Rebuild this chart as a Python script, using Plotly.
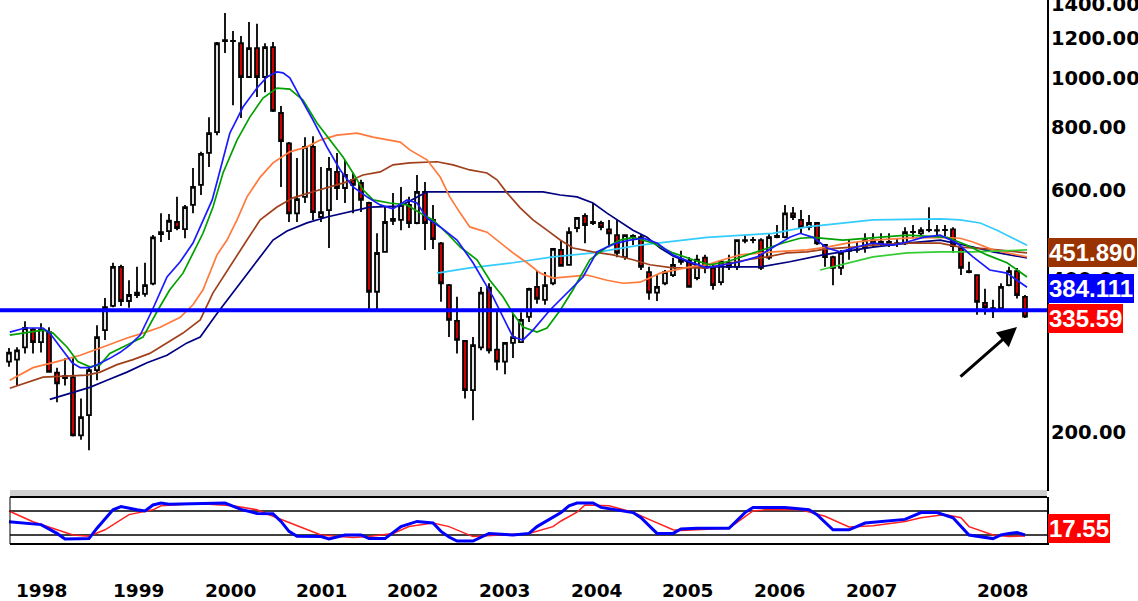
import math
import plotly.graph_objects as go

# ---------------- data (monthly bars, index 0..127) ----------------
bars = list(range(128))
opens = [275.5, 278, 294, 319, 301, 315, 262, 255.5, 256.5, 197, 216, 265, 318, 355, 424, 363, 373, 375, 393, 492,
         499, 520, 503.5, 562, 615.5, 712, 783, 1185, 1185, 1173, 1006, 1147, 1006, 1152, 854, 744, 541, 583, 732, 532,
         549, 653, 607, 630, 621, 567, 378.6, 454, 527.4, 525, 562, 517.6, 596.6, 525, 472, 390, 331.5, 302.6, 242, 294,
         385.5, 291, 275.5, 300, 301, 337.6, 387, 365, 393.5, 458, 428, 506, 534.6, 520, 517.6, 503, 490, 443, 485.6, 485.6,
         414, 377, 393.5, 408.5, 433.6, 436, 403, 442, 422, 395.4, 432, 424, 479, 479, 479, 442, 485.6, 485.6, 541, 525,
         508, 517.6, 468.5, 443, 422, 456, 458, 464, 479, 472, 468.5, 472, 472, 496.5, 494, 501, 501, 501, 503, 462,
         416, 408.5, 360, 351.5, 351.5, 390, 416, 370]
highs = [293, 294, 331, 321, 328, 322, 268, 279.6, 279.6, 233, 268, 325, 368, 432, 428, 399, 424, 432, 490, 541,
         539, 583, 562, 665, 715.5, 838, 1179, 1346, 1240, 1212, 1292, 1281, 1173, 1179, 881.5, 748, 696, 765, 768.6, 668,
         699, 712, 690, 650, 630, 570, 494, 556.6, 593.6, 610, 583, 644, 624, 562, 475, 392, 370, 304, 308, 387,
         393.5, 348, 301, 343, 345, 385.5, 416, 414, 462, 479, 508, 532, 541, 567, 523, 525, 525, 492, 492, 490,
         424, 408.5, 418, 442, 456, 443, 448, 448, 428, 436, 448, 481, 490, 485.6, 483, 494, 513, 562, 556.6, 549,
         537, 520, 470, 446, 458, 479, 475, 494, 494, 494, 494, 483, 508, 513, 508, 556, 513, 513, 508, 464,
         434, 410, 383.7, 365, 393.5, 424, 422, 373]
lows = [269, 247, 286, 286, 287, 262, 229, 247, 196, 193, 184, 253, 304, 353, 355, 352, 368, 370, 390, 475,
        479, 501, 483, 541, 588, 668, 772, 1122, 885, 835, 1001, 918, 939, 858, 610, 520, 520, 567, 525, 520,
        462, 575, 567, 541, 544, 348, 348, 452, 513, 501, 506, 515, 458, 460, 361.7, 308, 286, 233, 211, 290,
        286, 265, 260, 280, 300, 330, 358.6, 356.8, 390, 424, 426, 496.5, 472, 513, 501, 463.7, 443, 438, 468.5, 418,
        365, 363, 390, 405, 428, 385.5, 399, 412, 382, 390, 418, 418, 472, 472, 418, 438, 483, 483, 525, 494,
        501, 468.5, 424, 390, 408.5, 438, 452, 452, 464, 464, 464, 464, 468.5, 483, 490, 496.5, 485.6, 488, 452, 408.5,
        412, 341, 341, 336, 348, 388, 367, 336]
closes = [287, 290, 321, 301, 319, 263, 249.5, 258, 197, 214, 265, 308, 353, 424, 363, 373, 377, 390, 485, 496.5,
          523, 506, 556.6, 610, 709, 779, 1173, 1190, 1186, 1006, 1147, 1006, 1152, 862, 751.6, 541, 577, 732, 544, 544,
          662, 607, 644, 615.5, 575, 378.6, 451.6, 520, 523, 562, 517.6, 596.6, 517.6, 481, 393.5, 333, 304, 242, 297, 377,
          290, 275.5, 300, 308, 333, 383.7, 366.7, 390, 460, 426, 496.5, 530, 513, 517.6, 508, 494, 452, 490, 488, 424,
          377, 387, 414, 428, 438, 387, 438, 422, 390, 434, 424, 479, 477, 479.5, 422, 485.6, 488, 541, 532, 508,
          517.6, 472, 443, 422, 452, 458, 458.5, 479, 472, 475, 475, 472.5, 496.5, 497, 501, 501.5, 500, 501.5, 466, 422,
          414, 361.7, 353, 350, 387, 416, 373, 338]

# moving averages (bar index, price)
ma_blue_x = [0.1, 2, 4.25, 5.1, 6.4, 7.9, 8.9, 10.1, 11, 12.6, 13.9, 15.1, 16.4, 17.9, 19.75, 21.4, 23, 24.25, 25.4, 26,
             27.6, 29.25, 31, 32.25, 33.5, 34.25, 35.1, 36.4, 38, 39.75, 41.4, 43, 44.75, 46.4, 48, 49.75, 51, 52.25, 53.9, 56,
             58, 60.5, 63, 64.25, 65.5, 67.6, 69.75, 71.75, 73.5, 74.75, 76, 77.6, 79.25, 81, 83, 85.1, 87.25, 89.25, 91.4, 93.5,
             95.5, 97.6, 98.9, 100.5, 102.25, 103.9, 106, 108, 110.5, 112.25, 114.25, 116.4, 118.5, 120.5, 122.6, 124.75, 126, 127.25]
ma_blue = [315, 321, 321, 313.7, 294.5, 274, 268, 268, 271.7, 279.6, 287.4, 297, 310.8, 348, 404.9, 434, 472.5, 525, 575, 624,
           779, 877.5, 956.6, 1006, 1030, 1025, 1002, 918, 827, 731, 659, 610, 583, 562, 552, 575, 567, 529, 508.5, 479,
           432, 370, 308, 304, 318, 348, 376.8, 404.9, 453.9, 464, 472.5, 479, 483, 472.5, 447.7, 434, 422, 428, 434, 443.6,
           464, 485, 494, 485, 462, 453.9, 464, 472.5, 468, 474.7, 485, 489.7, 472.5, 443.6, 418, 412, 399, 386.5]

ma_green_x = [0.1, 4.25, 5.5, 7.25, 8.6, 10.1, 11.4, 12.6, 14.75, 16.75, 18.6, 20.1, 21.75, 23, 24.25, 25.5, 26.75, 28.5, 30.1, 31.75,
              33.5, 35.1, 36.75, 38.5, 40.1, 41.75, 43, 44.25, 45.5, 47.6, 49.75, 51.4, 53, 54.75, 56.4, 58.5, 60.1, 61.75, 63, 64.25,
              66, 67.25, 68.9, 70.5, 72.6, 74.75, 76.4, 78, 80.5, 83, 85.5, 87.6, 89.75, 92.25, 94.75, 96.75, 98.9, 100.5, 104.25, 108.9,
              112.25, 117.25, 119.75, 122.25, 124.75, 127.25]
ma_green = [310.8, 318, 313.7, 294.5, 275.5, 269, 271.7, 286, 297, 308, 348, 382, 412, 451.8, 494, 556.6, 650, 755, 838, 914,
            956.6, 952, 906, 815.8, 755, 699, 650, 602, 575, 567, 562, 541.5, 525, 494, 464, 438, 399, 370, 343, 322.5,
            315, 321, 348, 382, 438, 464, 479, 485, 472.5, 451.8, 438, 428, 434, 447.7, 462, 472.5, 483, 485, 479, 485,
            489.7, 485, 468, 447.7, 432, 404.9]

ma_lgreen_x = [101.4, 103.9, 108, 112.25, 116.4, 120.5, 123.9, 127.25]
ma_lgreen = [418, 428, 443.6, 451.8, 453.9, 453.9, 456, 458]

ma_orange_x = [0.1, 3, 6, 8.9, 11.75, 14.75, 16.75, 18.9, 21.4, 23, 24.25, 25.1, 26, 27.25, 28.5, 29.75, 31.4, 33, 35.1, 37.25,
               38.9, 41, 43.5, 45.5, 47.6, 48.9, 50.1, 52.25, 53.9, 55.1, 56.4, 57.6, 59.75, 61.4, 63, 64.75, 66.4, 68, 69.75, 72.25,
               74.75, 76.75, 78.9, 81.4, 85.1, 87.25, 89.25, 91.4, 95.5, 99.75, 102.25, 104.75, 108, 112.25, 116.4, 118.9, 120.5, 123, 127.25]
ma_orange = [253, 268, 275.5, 283.5, 294.5, 306.7, 313.7, 322, 337, 356.8, 382, 412, 447.7, 479, 525, 583, 638, 680.6, 715.5, 732,
             755, 772, 779, 765, 755, 748, 722, 690, 638, 583, 541.5, 508.5, 496.5, 472.5, 451.8, 432, 412, 403, 404.9, 408.5,
             399, 393.5, 395.4, 412, 424, 428, 438, 447.7, 453.9, 458, 464, 472.5, 479, 483, 485, 483, 474.7, 458, 443.6]

ma_brown_x = [0.1, 4.25, 9.75, 11.4, 13.5, 15.5, 17.6, 19.75, 21.75, 23.9, 25.5, 29.75, 31.4, 33.5, 35.5, 38, 40.1, 42.25, 44.25, 46.4,
              48, 50.1, 53.5, 55.5, 57.6, 59.75, 61, 62.25, 63.9, 65.5, 67.25, 68.9, 70.5, 73, 75.5, 78, 80.1, 83, 87.25, 89.75,
              92.25, 94.75, 97.25, 99.75, 102.25, 105.5, 108, 112.25, 116.4, 118.9, 122.25, 127.25]
ma_brown = [244, 256.7, 259, 262.6, 271.7, 278, 286, 300, 313.7, 333, 376.8, 479, 525, 556.6, 580.5, 596.6, 610, 624, 644, 653,
            674.5, 680.6, 684, 674.5, 659, 650, 630, 593.8, 554.5, 525, 501, 479, 462, 453.9, 447.7, 438, 428, 422, 422, 430,
            438, 443.6, 451.8, 453.9, 460, 464, 468, 472.5, 472.5, 464, 460, 451.9]

ma_navy_x = [5.1, 7.6, 10.1, 12.25, 14.75, 17.25, 19.75, 22.25, 23.9, 26, 33, 34.75, 37.25, 39.75, 42.25, 45.1, 48.9, 52.25, 66.75, 68.9,
             71, 73, 74.75, 76.4, 78, 79.75, 81.4, 83, 84.75, 86.4, 93.9, 97.6, 101.75, 108, 112.25, 116.4, 120.5, 123, 127.25]
ma_navy = [232, 238.7, 245, 253, 262.6, 274, 283.5, 300, 308, 343, 479, 499, 518, 532, 544, 556.6, 559, 596.6, 596.6, 588,
           583, 567, 541.5, 520, 501, 485, 462, 445.6, 434, 424, 424, 434, 447.7, 464, 472.5, 479, 464, 453.9, 441.6]

ma_cyan_x = [53.5, 57.6, 63, 68, 73, 78.9, 87.25, 95.5, 99.75, 103.9, 108, 116.4, 118.9, 121.4, 123.5, 125.5, 127.25]
ma_cyan = [412, 422, 432, 443.6, 451.8, 468, 485, 494, 508.5, 517.6, 525, 527.4, 525, 517.6, 501, 483, 468]

support_level = 348

# stochastic oscillator
stoch_k_x = [0, 3, 4, 6, 7, 10, 11, 13, 14, 16, 17, 18, 19, 20, 24, 25, 27, 29, 31, 33, 34, 35, 36, 39, 40, 42, 44, 45, 47, 49,
             51, 53, 54, 55, 56, 58, 60, 63, 65, 66, 69, 70, 71, 73, 74, 78, 79, 81, 83, 84, 86, 90, 92, 93, 94, 97, 100, 101, 103, 105,
             107, 112, 114, 116, 118, 120, 123, 124, 125, 126, 127]
stoch_k = [53, 47, 46, 24, 10, 11, 37, 83, 91, 83, 80, 95, 100, 97, 98, 100, 100, 84, 74, 73, 54, 29, 17, 16, 10, 20, 20, 11, 11, 41,
           54, 50, 29, 15, 5, 5, 24, 20, 24, 41, 76, 93, 100, 100, 89, 76, 63, 24, 24, 35, 37, 37, 76, 89, 89, 89, 83, 71, 33, 33,
           50, 59, 76, 76, 63, 20, 11, 20, 24, 26, 20]
stoch_d_x = [0, 3, 8, 10, 12, 15, 18, 19, 22, 25, 28, 31, 33, 37, 39, 43, 45, 48, 50, 53, 55, 58, 61, 65, 68, 69, 71, 72, 75, 78,
             80, 83, 84, 90, 93, 95, 99, 102, 105, 108, 112, 114, 117, 119, 120, 123, 125, 127]
stoch_d = [80, 53, 20, 17, 33, 71, 83, 93, 97, 97, 93, 83, 67, 37, 20, 14, 16, 24, 41, 50, 41, 16, 20, 24, 41, 55, 77, 95, 93, 77,
           59, 33, 31, 37, 80, 84, 83, 67, 40, 43, 54, 63, 71, 63, 41, 20, 16, 17.5]

year_labels = ['1998', '1999', '2000', '2001', '2002', '2003', '2004', '2005', '2006', '2007', '2008']
year_label_bars = [4.1, 16.25, 27.75, 39.1, 50.5, 62, 73.5, 84.9, 96.4, 107.9, 124.25]

price_ticks = [200, 400, 600, 800, 1000, 1200, 1400]
last_values = [('451.890', 451.89, '#993300'), ('384.111', 384.111, '#0000ff'), ('335.59', 335.59, '#ff0000')]
stoch_last_label = '17.55'

# ---------------- figure ----------------
X_RANGE = [-1.125, 129.75]
Y_RANGE = [math.log10(152.9), math.log10(1428)]
H_PLOT = 545.0  # plot-area height in px (601 - bottom margin)

def py(pix):
    return (H_PLOT - pix) / H_PLOT

fig = go.Figure()
fig.add_trace(go.Candlestick(
    x=bars, open=opens, high=highs, low=lows, close=closes, xaxis='x', yaxis='y',
    increasing=dict(fillcolor='#e4e4e4', line=dict(color='#000000', width=1.8)),
    decreasing=dict(fillcolor='#cc0000', line=dict(color='#000000', width=1.8)),
    whiskerwidth=0, showlegend=False, hoverinfo='skip'))

for xs, ys, col in [(ma_cyan_x, ma_cyan, '#33ccff'), (ma_navy_x, ma_navy, '#000080'),
                    (ma_brown_x, ma_brown, '#a0401c'), (ma_orange_x, ma_orange, '#ff7a3c'),
                    (ma_lgreen_x, ma_lgreen, '#33cc33'), (ma_green_x, ma_green, '#00a000'),
                    (ma_blue_x, ma_blue, '#1a1aff')]:
    fig.add_trace(go.Scatter(x=xs, y=ys, mode='lines', line=dict(color=col, width=1.7),
                             xaxis='x', yaxis='y', showlegend=False, hoverinfo='skip'))

fig.add_trace(go.Scatter(x=X_RANGE, y=[support_level, support_level], mode='lines',
                         line=dict(color='#0000ff', width=4), xaxis='x', yaxis='y',
                         showlegend=False, hoverinfo='skip'))

fig.add_trace(go.Scatter(x=stoch_d_x, y=stoch_d, mode='lines', line=dict(color='#ff2020', width=1.5),
                         xaxis='x2', yaxis='y2', showlegend=False, hoverinfo='skip'))
fig.add_trace(go.Scatter(x=stoch_k_x, y=stoch_k, mode='lines', line=dict(color='#0000ff', width=3),
                         xaxis='x2', yaxis='y2', showlegend=False, hoverinfo='skip'))

shapes = []
x_left = 10 / 1047
# separator band between panels
shapes.append(dict(type='rect', xref='paper', yref='paper', x0=x_left, x1=1, y0=py(497), y1=py(490),
                   fillcolor='#d0d0d0', line=dict(width=0), layer='below'))
for val in (80, 20):
    shapes.append(dict(type='line', xref='paper', yref='y2', x0=x_left, x1=1, y0=val, y1=val,
                       line=dict(color='#000000', width=1.5), layer='below'))
shapes.append(dict(type='line', xref='paper', yref='paper', x0=x_left, x1=1, y0=py(497), y1=py(497),
                   line=dict(color='#000000', width=2)))
shapes.append(dict(type='line', xref='paper', yref='paper', x0=x_left, x1=1, y0=py(544), y1=py(544),
                   line=dict(color='#000000', width=2)))
shapes.append(dict(type='line', xref='paper', yref='paper', x0=x_left, x1=x_left, y0=py(544), y1=py(497),
                   line=dict(color='#000000', width=1)))

annotations = []
for lab, b in zip(year_labels, year_label_bars):
    annotations.append(dict(x=b, y=py(590), xref='x', yref='paper', text='<b>%s</b>' % lab, showarrow=False,
                            xanchor='center', yanchor='middle',
                            font=dict(family='DejaVu Sans', size=18.5, color='#000000')))
for txt, val, col in last_values:
    annotations.append(dict(x=1, y=math.log10(val), xref='paper', yref='y', text='<b>%s</b>' % txt,
                            showarrow=False, xanchor='left', yanchor='middle', xshift=1,
                            bgcolor=col, borderpad=1, borderwidth=0,
                            font=dict(family='Liberation Sans', size=24, color='#ffffff')))
annotations.append(dict(x=1, y=py(528), xref='paper', yref='paper', text='<b>%s</b>' % stoch_last_label,
                        showarrow=False, xanchor='left', yanchor='middle', xshift=1,
                        bgcolor='#ff0000', borderpad=1, borderwidth=0,
                        font=dict(family='Liberation Sans', size=24, color='#ffffff')))
# arrow pointing at the last bar
annotations.append(dict(x=126, y=math.log10(322.5), xref='x', yref='y', text='', showarrow=True,
                        arrowhead=2, arrowsize=1.3, arrowwidth=3, arrowcolor='#000000',
                        ax=-58, ay=51, standoff=0))

fig.update_layout(
    width=1138, height=601, margin=dict(l=0, r=91, t=0, b=56, autoexpand=False),
    paper_bgcolor='#ffffff', plot_bgcolor='#ffffff', showlegend=False,
    xaxis=dict(domain=[0, 1], range=X_RANGE, anchor='y', showticklabels=False, showgrid=False,
               zeroline=False, showline=False, ticks='', automargin=False, rangeslider=dict(visible=False)),
    yaxis=dict(domain=[py(491), 1], type='log', range=Y_RANGE, side='right', anchor='x',
               tickvals=price_ticks, ticktext=['<b>%.2f</b>' % v for v in price_ticks],
               tickfont=dict(family='DejaVu Sans', size=19.5, color='#000000'),
               ticklabeloverflow='allow', ticklabelstandoff=-2, automargin=False,
               showgrid=False, zeroline=False, showline=True, linecolor='#000000', linewidth=2, ticks=''),
    xaxis2=dict(domain=[0, 1], range=X_RANGE, anchor='y2', matches='x', showticklabels=False, automargin=False,
                showgrid=False, zeroline=False, showline=False, ticks='', rangeslider=dict(visible=False)),
    yaxis2=dict(domain=[0, py(497)], range=[-5, 115], side='right', anchor='x2', showticklabels=False,
                automargin=False,
                showgrid=False, zeroline=False, showline=True, linecolor='#000000', linewidth=2, ticks=''),
    shapes=shapes, annotations=annotations,
)

fig.write_html('out.html')
